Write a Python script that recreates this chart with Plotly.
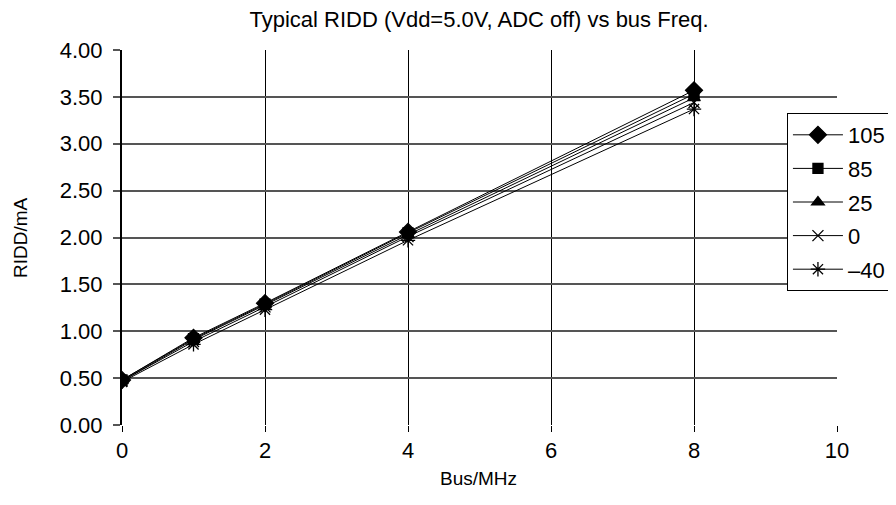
import plotly.graph_objects as go

bus_mhz = [0, 1, 2, 4, 8]
series_names = ["105", "85", "25", "0", "\u201340"]
ridd_105 = [0.48, 0.93, 1.30, 2.06, 3.57]
ridd_85 = [0.48, 0.92, 1.29, 2.05, 3.53]
ridd_25 = [0.47, 0.91, 1.28, 2.03, 3.49]
ridd_0 = [0.47, 0.89, 1.26, 2.01, 3.44]
ridd_m40 = [0.46, 0.86, 1.23, 1.97, 3.37]
y_ticks = [0, 0.5, 1.0, 1.5, 2.0, 2.5, 3.0, 3.5, 4.0]
x_ticks = [0, 2, 4, 6, 8, 10]

all_series = [ridd_105, ridd_85, ridd_25, ridd_0, ridd_m40]
symbols = ["diamond", "square", "triangle-up", "x-thin-open", "asterisk-open"]
sizes = [13, 10, 11, 11, 12]

fig = go.Figure()
for i, (name, vals) in enumerate(zip(series_names, all_series)):
    fig.add_trace(go.Scatter(
        x=bus_mhz, y=vals, name=name, mode="lines+markers",
        legendgroup=f"g{i}",
        line=dict(color="black", width=1),
        marker=dict(symbol=symbols[i], size=sizes[i], color="black",
                    line=dict(color="black", width=1.3)),
    ))

font_family = "Liberation Sans, Arial, Helvetica, sans-serif"
fig.update_layout(
    width=896, height=505,
    margin=dict(l=114, r=67, t=42, b=88, autoexpand=False),
    paper_bgcolor="white", plot_bgcolor="white",
    font=dict(family=font_family, size=22, color="black"),
    title=dict(text="Typical RIDD (Vdd=5.0V, ADC off) vs bus Freq.",
               x=471 / 896, xanchor="center", y=1 - 11 / 505, yanchor="middle",
               font=dict(size=22)),
    showlegend=True,
    legend=dict(x=0.930, y=0.832, xanchor="left", yanchor="top",
                bordercolor="black", borderwidth=1, bgcolor="white",
                font=dict(size=22), tracegroupgap=2, traceorder="grouped",
                itemwidth=50),
    xaxis=dict(range=[0, 10], tickvals=x_ticks, ticktext=[str(v) for v in x_ticks],
               showgrid=True, gridcolor="black", gridwidth=1,
               showline=False, zeroline=False, automargin=False,
               ticks="outside", ticklen=6, tickcolor="black",
               tickfont=dict(size=22)),
    yaxis=dict(range=[0, 4], tickvals=y_ticks, ticktext=[f"{v:.2f}" for v in y_ticks],
               showgrid=True, gridcolor="#555555", gridwidth=2,
               showline=True, linecolor="black", linewidth=2, zeroline=False,
               automargin=False, ticklabelstandoff=6,
               ticks="outside", ticklen=7, tickcolor="#555555", tickwidth=2,
               tickfont=dict(size=22)),
    annotations=[
        dict(text="Bus/MHz", xref="paper", yref="paper",
             x=(478 - 122) / 715, y=-(478 - 425) / 375,
             xanchor="center", yanchor="middle", showarrow=False,
             font=dict(size=19)),
        dict(text="RIDD/mA", xref="paper", yref="paper",
             x=-(122 - 20) / 715, y=(425 - 238) / 375, textangle=-90,
             xanchor="center", yanchor="middle", showarrow=False,
             font=dict(size=19)),
    ],
)

fig.write_html("out.html")
